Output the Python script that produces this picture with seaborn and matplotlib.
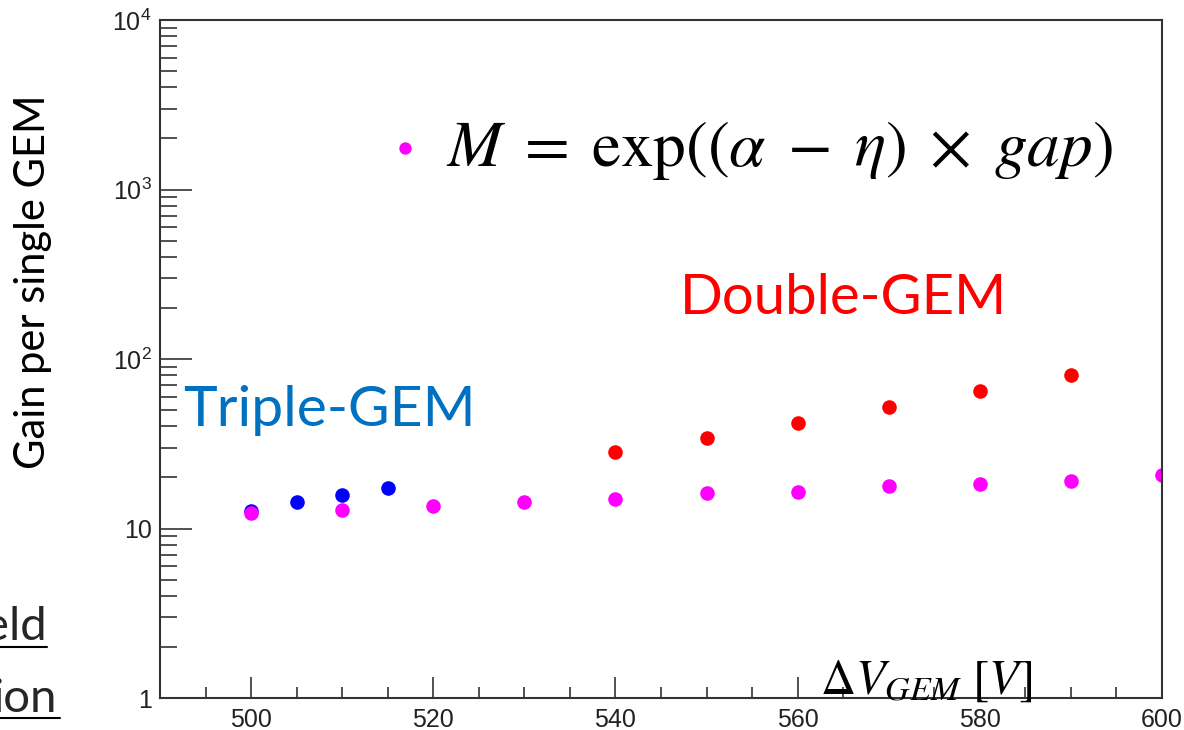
import numpy as np
import pandas as pd
import seaborn as sns
import matplotlib.pyplot as plt
from matplotlib.lines import Line2D
from matplotlib.ticker import FixedLocator, MultipleLocator, FuncFormatter, NullFormatter

# data (gain per single GEM vs GEM voltage)
v_single = [500, 510, 520, 530, 540, 550, 560, 570, 580, 590, 600]
g_single = [12.3, 12.9, 13.6, 14.3, 15.0, 16.1, 16.5, 17.8, 18.2, 19.1, 20.6]

v_triple = [500, 505, 510, 515]
g_triple = [12.7, 14.3, 15.8, 17.4]

v_double = [540, 550, 560, 570, 580, 590]
g_double = [28.3, 34.3, 41.7, 51.9, 64.5, 80.4]

sns.set_theme(style='white')
plt.rcParams['font.family'] = ['Liberation Sans', 'DejaVu Sans']
plt.rcParams['mathtext.fontset'] = 'stix'

fig = plt.figure(figsize=(11.84, 7.3), dpi=100)
ax = fig.add_axes([160/1184, 1 - 698/730, 1002/1184, 678/730])

sns.scatterplot(x=v_triple, y=g_triple, color='#0000ff', s=110, linewidth=0, ax=ax, label='_nolegend_')
sns.scatterplot(x=v_double, y=g_double, color='#ff0000', s=110, linewidth=0, ax=ax, label='_nolegend_')
sns.scatterplot(x=v_single, y=g_single, color='#ff00ff', s=110, linewidth=0, ax=ax,
                label=r'$M\;=\;\mathrm{exp}((\alpha\;-\;\eta)\;\times\;gap)$')

ax.set_yscale('log')
ax.set_xlim(490, 600)
ax.set_ylim(1, 1e4)

ax.xaxis.set_major_locator(MultipleLocator(20))
ax.xaxis.set_minor_locator(MultipleLocator(5))
ax.yaxis.set_major_locator(FixedLocator([1, 10, 100, 1000, 10000]))
ax.yaxis.set_minor_locator(FixedLocator([m * 10**e for e in range(4) for m in range(2, 10)]))
ax.yaxis.set_minor_formatter(NullFormatter())

def ylab(v, pos):
    if v < 50:
        return '%d' % v
    return r'$\mathregular{10^{%d}}$' % round(np.log10(v))
ax.yaxis.set_major_formatter(FuncFormatter(ylab))

ax.tick_params(axis='both', which='both', direction='in', colors='#333333',
               labelcolor='#222222', labelsize=18, left=True, bottom=True)
ax.tick_params(axis='y', which='major', length=23, width=1.2, pad=6)
ax.tick_params(axis='y', which='minor', length=12, width=1.2)
ax.tick_params(axis='x', which='major', length=15, width=1.2, pad=7)
ax.tick_params(axis='x', which='minor', length=8, width=1.2)
for sp in ax.spines.values():
    sp.set_color('#333333')
    sp.set_linewidth(1.5)

leg = ax.legend(loc='center left', bbox_to_anchor=((392 - 160) / 1002, (698 - 150) / 678),
                frameon=False, fontsize=47, handlelength=0.4, handletextpad=0.42,
                markerscale=0.85, borderpad=0, borderaxespad=0)
for t in leg.get_texts():
    t.set_color('black')

ax.set_ylabel('')
ax.set_xlabel('')
fig.text(33/1184, 1 - 282/730, 'Gain per single GEM', rotation=90, fontsize=30,
         family='Lato', ha='center', va='center', color='black')
ax.text((1032 - 160) / 1002, 4 / 678, r'$\Delta V_{GEM}\ [V]$', transform=ax.transAxes,
        fontsize=35, ha='right', va='baseline', color='black')

fig.text(183/1184, 1 - 410/730, 'Triple-GEM', fontsize=41, family='Lato',
         color='#0070c0', ha='left', va='center')
fig.text(680/1184, 1 - 299/730, 'Double-GEM', fontsize=40.5, family='Lato',
         color='#ff0000', ha='left', va='center')

# cut-off slide text on the left edge
fig.text(47/1184, 1 - 640/730, 'eld', fontsize=34, family='Lato', ha='right', va='baseline')
fig.text(57/1184, 1 - 712/730, 'ion', fontsize=34, family='Lato', ha='right', va='baseline')
fig.add_artist(Line2D([0, 47/1184], [1 - 647/730] * 2, color='black', lw=1.5))
fig.add_artist(Line2D([0, 60/1184], [1 - 718/730] * 2, color='black', lw=1.5))

fig.savefig('out.png', dpi=100)
